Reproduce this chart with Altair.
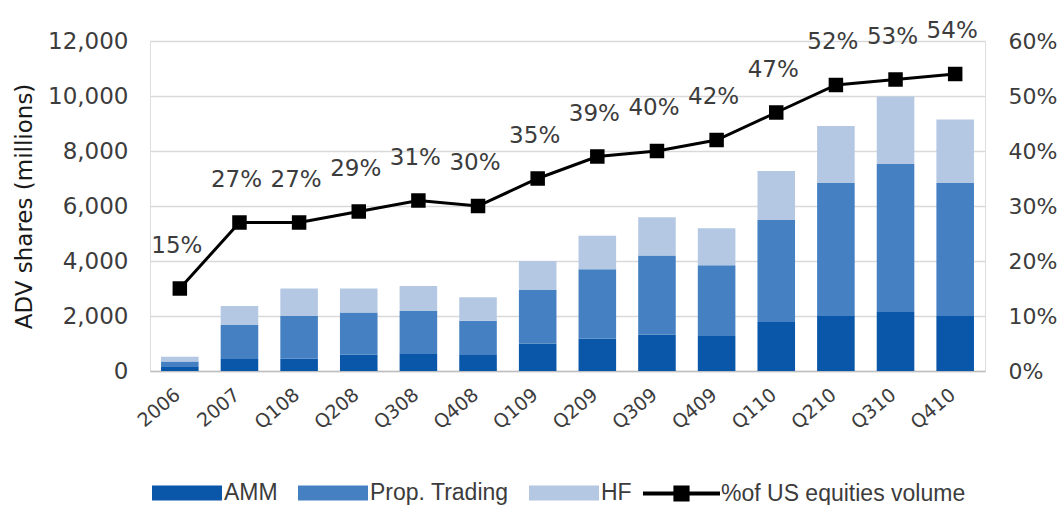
import altair as alt
import pandas as pd

# Periods on the x axis
periods = ["2006", "2007", "Q108", "Q208", "Q308", "Q408", "Q109",
           "Q209", "Q309", "Q409", "Q110", "Q210", "Q310", "Q410"]

# Average daily volume by trader type (millions of shares)
amm = [150, 440, 450, 600, 650, 610, 1000, 1170, 1330, 1270, 1780, 2000, 2170, 2000]
prop_trading = [200, 1230, 1550, 1530, 1530, 1220, 1950, 2530, 2870, 2580, 3710, 4840, 5360, 4840]
hf = [170, 690, 1000, 870, 910, 850, 1050, 1220, 1390, 1340, 1780, 2070, 2450, 2310]

# Share of US equities volume (%)
share_pct = [15, 27, 27, 29, 31, 30, 35, 39, 40, 42, 47, 52, 53, 54]

series_names = ["AMM", "Prop. Trading", "HF"]
series_colors = ["#0a56a8", "#4580c2", "#b4c8e4"]
line_name = "%of US equities volume"

rows = []
for name, rank, vals in zip(series_names, range(3), [amm, prop_trading, hf]):
    for p, v in zip(periods, vals):
        rows.append({"period": p, "series": name, "rank": rank, "value": v})
bars_df = pd.DataFrame(rows)

line_df = pd.DataFrame({
    "period": periods,
    "share": [v / 100 for v in share_pct],
    "label": [f"{v}%" for v in share_pct],
    "s": [line_name] * len(periods),
})

FONT = "DejaVu Sans"
LEGEND_FONT = "Liberation Sans"
TEXT_GREY = "#3c3c3c"

x_enc = alt.X(
    "period:N", sort=periods, title=None,
    scale=alt.Scale(paddingInner=0.37, paddingOuter=0.185),
    axis=alt.Axis(labelAngle=-40, labelAlign="right", labelBaseline="top",
                  labelPadding=14, labelOffset=-8, ticks=False,
                  domainColor="#bfbfbf", domainWidth=1.5,
                  labelFont=FONT, labelFontSize=19, labelColor=TEXT_GREY),
)

bar_rect = "M-1,-0.214H1V0.214H-1Z"
line_symbol = ("M-1,-0.052H-0.21V-0.21H0.21V-0.052H1V0.052H0.21V0.21"
               "H-0.21V0.052H-1Z")

bars = alt.Chart(bars_df).mark_bar().encode(
    x=x_enc,
    y=alt.Y("value:Q", stack="zero",
            scale=alt.Scale(domain=[0, 12000]),
            axis=alt.Axis(values=list(range(0, 12001, 2000)), format=",.0f",
                          title="ADV shares (millions)", titleFont=FONT,
                          titleFontSize=23, titleFontWeight="normal",
                          titleColor="#1a1a1a", titlePadding=11,
                          labelFont=FONT, labelFontSize=23, labelColor=TEXT_GREY,
                          labelPadding=22, ticks=False, domain=False,
                          grid=True, gridColor="#d9d9d9", gridWidth=1.5)),
    color=alt.Color("series:N",
                    scale=alt.Scale(domain=series_names, range=series_colors),
                    legend=alt.Legend(orient="none", direction="horizontal",
                                      legendX=2, legendY=417, title=None,
                                      symbolType=bar_rect, symbolSize=4900,
                                      symbolStrokeWidth=0, symbolOpacity=1,
                                      labelFont=LEGEND_FONT, labelFontSize=23,
                                      labelColor=TEXT_GREY, labelOffset=2,
                                      labelLimit=400, columnPadding=20,
                                      padding=0)),
    order=alt.Order("rank:Q"),
)

pct_axis = alt.Axis(orient="right", values=[0, 0.1, 0.2, 0.3, 0.4, 0.5, 0.6],
                    format=".0%", title=None, ticks=False, domain=False,
                    grid=False, labelFont=FONT, labelFontSize=22,
                    labelColor=TEXT_GREY, labelPadding=23)
pct_scale = alt.Scale(domain=[0, 0.6])

line = alt.Chart(line_df).mark_line(color="black", strokeWidth=3).encode(
    x=alt.X("period:N", sort=periods),
    y=alt.Y("share:Q", scale=pct_scale, axis=pct_axis),
)

points = alt.Chart(line_df).mark_point(
    shape="square", filled=True, size=210, opacity=1
).encode(
    x=alt.X("period:N", sort=periods),
    y=alt.Y("share:Q", scale=pct_scale, axis=None),
    color=alt.Color("s:N",
                    scale=alt.Scale(domain=[line_name], range=["black"]),
                    legend=alt.Legend(orient="none", direction="horizontal",
                                      legendX=493, legendY=414, title=None,
                                      symbolType=line_symbol, symbolSize=5929,
                                      symbolStrokeWidth=0, symbolOpacity=1,
                                      labelFont=LEGEND_FONT, labelFontSize=23,
                                      labelColor=TEXT_GREY, labelOffset=1,
                                      labelLimit=400, padding=0)),
)

labels = alt.Chart(line_df).mark_text(
    font=FONT, fontSize=23, color=TEXT_GREY, dy=-43, dx=-3
).encode(
    x=alt.X("period:N", sort=periods),
    y=alt.Y("share:Q", scale=pct_scale, axis=None),
    text="label:N",
)

chart = alt.layer(bars, line, points, labels).resolve_scale(
    y="independent", color="independent"
).properties(
    width=835, height=330,
    autosize=alt.AutoSizeParams(type="none"),
    padding={"left": 150, "top": 41, "right": 75, "bottom": 134},
).configure_view(stroke=None).configure(background="white")

chart.save("out.html", embed_options={"renderer": "svg", "actions": False})
